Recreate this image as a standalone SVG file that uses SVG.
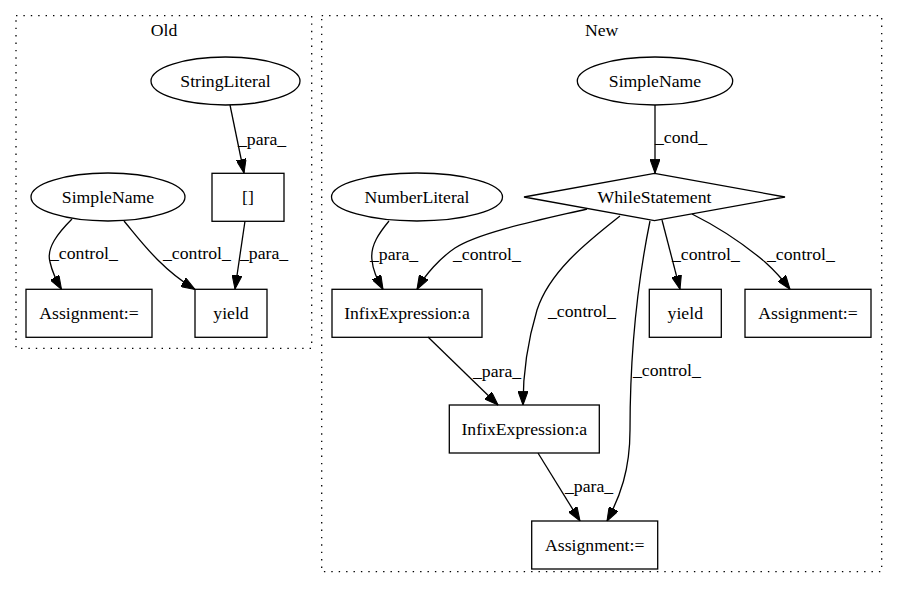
<svg xmlns="http://www.w3.org/2000/svg" width="897" height="596" viewBox="0 0 897 596" font-family="'Liberation Serif', 'DejaVu Serif', serif">
<style>
text{font-family:'Liberation Serif','DejaVu Serif',serif;font-size:17.7px;fill:#000}
.n{text-anchor:middle}
.node ellipse,.node rect,.node polygon{fill:none;stroke:#000;stroke-width:1.3}
.cl{fill:none;stroke:#000;stroke-width:1.3;stroke-dasharray:1.4,6}
.e path{fill:none;stroke:#000;stroke-width:1.3;marker-end:url(#ah)}
</style>
<defs>
<marker id="ah" markerUnits="userSpaceOnUse" markerWidth="14" markerHeight="10" viewBox="0 0 13 9.4" refX="13" refY="4.7" orient="auto">
<path d="M0,0 L13,4.7 L0,9.4 z" fill="#000" stroke="#000" stroke-width="1"/>
</marker>
</defs>
<rect width="897" height="596" fill="#fff"/>
<g id="cluster_old">
<rect class="cl" x="16" y="15.7" width="295.7" height="332.6"/>
<text class="n" x="164" y="36">Old</text>
</g>
<g id="cluster_new">
<rect class="cl" x="321.7" y="15.7" width="560" height="556"/>
<text class="n" x="601.7" y="36">New</text>
</g>
<g id="edges" class="e">
<path d="M230,105 L244,173"/>
<path d="M245,221 L235,289"/>
<path d="M72,219 C58,233 46,248 50,262 C52,271 56,280 61.5,289.5"/>
<path d="M124,221 C140,240 160,268 195,289.5"/>
<path d="M655,105 L655,173"/>
<path d="M389,221 C380,232 370,245 372,260 C373,272 378,280 383,289.3"/>
<path d="M587,209 C540,220 480,232 455,248 C440,258 425,275 417,289.3"/>
<path d="M620,216 C590,240 550,270 537,310 C528,340 523,375 523,405"/>
<path d="M662,220 L680,289.3"/>
<path d="M692,214 C720,228 745,245 765,262 C775,271 783,280 790,289.3"/>
<path d="M650,221 C638,280 630,350 630,430 C630,470 620,497 607,521"/>
<path d="M428,337 L498,405"/>
<path d="M538,453 L580,521"/>
</g>
<g id="edge_labels">
<text x="238" y="145">_para_</text>
<text x="240" y="259">_para_</text>
<text x="50" y="259">_control_</text>
<text x="163" y="259">_control_</text>
<text x="655" y="143">_cond_</text>
<text x="370" y="260">_para_</text>
<text x="453" y="260">_control_</text>
<text x="548" y="317">_control_</text>
<text x="672" y="260">_control_</text>
<text x="767" y="260">_control_</text>
<text x="633" y="376">_control_</text>
<text x="473" y="377">_para_</text>
<text x="565" y="492">_para_</text>
</g>
<g id="old_stringliteral" class="node"><ellipse cx="225.5" cy="81" rx="74.5" ry="24"/><text class="n" x="225.5" y="87">StringLiteral</text></g>
<g id="old_index" class="node"><rect x="212" y="173.3" width="72" height="48"/><text class="n" x="248" y="203">[]</text></g>
<g id="old_simplename" class="node"><ellipse cx="108" cy="197" rx="77" ry="24"/><text class="n" x="108" y="203">SimpleName</text></g>
<g id="old_assignment" class="node"><rect x="26" y="289.3" width="126" height="48"/><text class="n" x="89" y="319">Assignment:=</text></g>
<g id="old_yield" class="node"><rect x="195" y="289.3" width="72" height="48"/><text class="n" x="231" y="319">yield</text></g>
<g id="new_simplename" class="node"><ellipse cx="655" cy="81" rx="77.7" ry="24"/><text class="n" x="655" y="87">SimpleName</text></g>
<g id="new_while" class="node"><polygon points="654.5,173.3 785,197 654.5,220.7 524,197"/><text class="n" x="654.5" y="203">WhileStatement</text></g>
<g id="new_numberliteral" class="node"><ellipse cx="417" cy="197" rx="85.5" ry="24"/><text class="n" x="417" y="203">NumberLiteral</text></g>
<g id="new_infix1" class="node"><rect x="332" y="289.3" width="150" height="48"/><text class="n" x="407" y="319">InfixExpression:a</text></g>
<g id="new_yield" class="node"><rect x="649.3" y="289.3" width="72" height="48"/><text class="n" x="685.3" y="319">yield</text></g>
<g id="new_assignment_right" class="node"><rect x="745" y="289.3" width="126" height="48"/><text class="n" x="808" y="319">Assignment:=</text></g>
<g id="new_infix2" class="node"><rect x="449.3" y="405" width="150" height="48"/><text class="n" x="524.3" y="435">InfixExpression:a</text></g>
<g id="new_assignment_bottom" class="node"><rect x="531.7" y="521" width="126" height="48"/><text class="n" x="594.7" y="551">Assignment:=</text></g>
</svg>
